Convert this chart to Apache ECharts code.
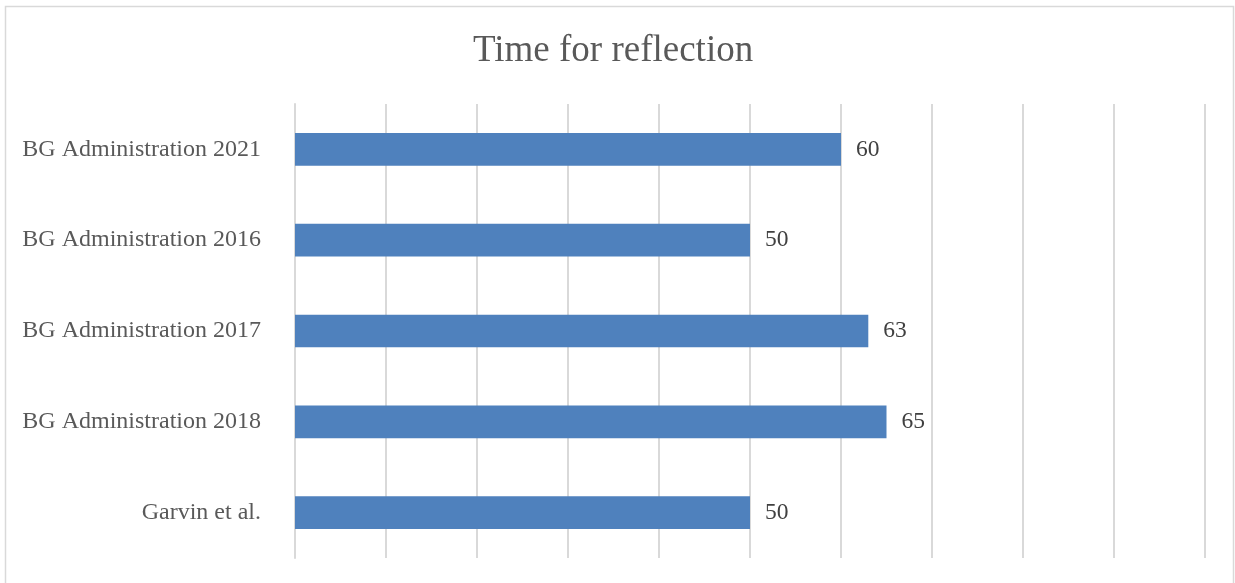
<!DOCTYPE html>
<html>
<head>
<meta charset="utf-8">
<script src="https://cdn.jsdelivr.net/npm/echarts@6/dist/echarts.min.js"></script>
<style>
  html, body { margin: 0; padding: 0; background: #fff; }
  #chart { width: 1235px; height: 583px; }
</style>
</head>
<body>
<div id="chart"></div>
<script>
// Categories listed bottom-to-top (ECharts category y-axis starts at the bottom)
const categories = [
  'Garvin et al.',
  'BG Administration 2018',
  'BG Administration 2017',
  'BG Administration 2016',
  'BG Administration 2021'
];
const values = [50, 65, 63, 50, 60];
const axisMin = 0;
const axisMax = 100;
const axisStep = 10;

const serif = '"Liberation Serif", "Times New Roman", serif';
const chart = echarts.init(document.getElementById('chart'), null, { renderer: 'canvas' });

chart.setOption({
  animation: false,
  backgroundColor: '#ffffff',
  graphic: [{
    type: 'rect',
    shape: { x: 5.5, y: 6.5, width: 1228, height: 600 },
    style: { fill: 'none', stroke: '#d9d9d9', lineWidth: 1.5 },
    silent: true
  }],
  title: {
    text: 'Time for reflection',
    left: 468,
    top: 28,
    textStyle: { fontFamily: serif, fontSize: 37, fontWeight: 'normal', color: '#595959' }
  },
  grid: { left: 295, right: 30, top: 104, bottom: 25, containLabel: false },
  xAxis: {
    type: 'value',
    min: axisMin,
    max: axisMax,
    interval: axisStep,
    axisLine: { show: false },
    axisTick: { show: false },
    axisLabel: { show: false },
    splitLine: { show: true, lineStyle: { color: '#d9d9d9', width: 2 } }
  },
  yAxis: {
    type: 'category',
    data: categories,
    axisLine: { show: true, lineStyle: { color: '#d9d9d9', width: 2 } },
    axisTick: { show: false },
    axisLabel: { fontFamily: serif, fontSize: 24, color: '#595959', margin: 34 }
  },
  series: [{
    type: 'bar',
    data: values,
    barWidth: '36%',
    itemStyle: { color: '#4f81bd' },
    label: {
      show: true,
      position: 'right',
      distance: 15,
      fontFamily: serif,
      fontSize: 23.5,
      color: '#404040'
    }
  }]
});
</script>
</body>
</html>
